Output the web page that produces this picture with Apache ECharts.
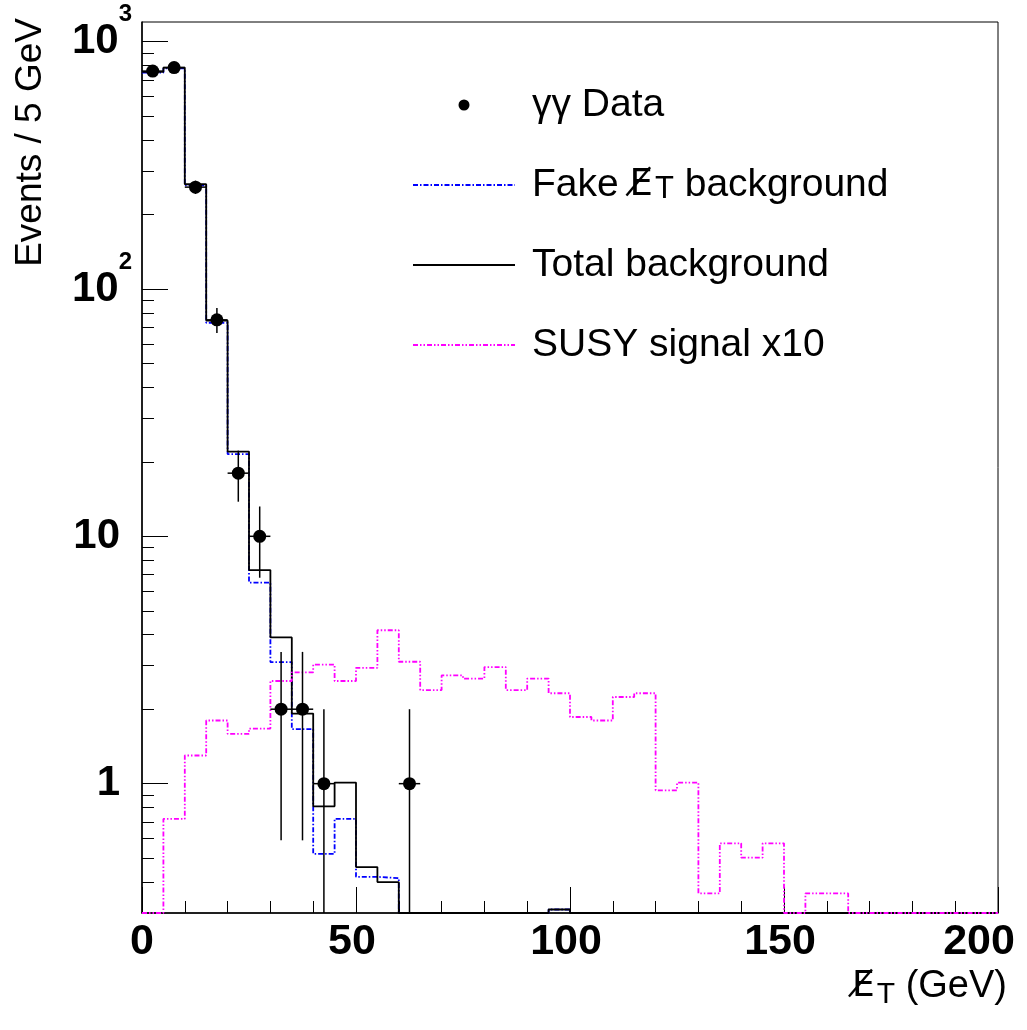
<!DOCTYPE html>
<html>
<head>
<meta charset="utf-8">
<script src="https://cdn.jsdelivr.net/npm/echarts@6/dist/echarts.min.js"></script>
<style>
html,body{margin:0;padding:0;background:#fff;overflow:hidden;}
#chart{width:1027px;height:1030px;}
</style>
</head>
<body>
<div id="chart"></div>
<script>
// ---- data ----
const binLow = [0,5,10,15,20,25,30,35,40,45,50,55,60,65,70,75,80,85,90,95,
                100,105,110,115,120,125,130,135,140,145,150,155,160,165,170,175,180,185,190,195];
const binWidth = 5;
const fakeBkg  = [750,780,262,73,21.5,6.5,3.1,1.66,0.52,0.72,0.42,0.415,0,0,0,0,0,0,0,0.31,
                  0,0,0,0,0,0,0,0,0,0,0,0,0,0,0,0,0,0,0,0];
const totalBkg = [755,785,265,74.5,22,7.3,3.9,1.92,0.81,1.01,0.46,0.40,0,0,0,0,0,0,0,0.31,
                  0,0,0,0,0,0,0,0,0,0,0,0,0,0,0,0,0,0,0,0];
const susy10   = [0,0.72,1.30,1.80,1.59,1.67,2.60,2.82,3.03,2.60,2.94,4.17,3.11,2.39,2.74,2.66,2.96,2.39,2.66,2.32,
                  1.86,1.80,2.24,2.32,0.94,1.01,0.36,0.574,0.502,0.574,0,0.36,0.36,0,0,0,0,0,0,0];
const dataX    = [2.5,7.5,12.5,17.5,22.5,27.5,32.5,37.5,42.5,62.5];
const dataY    = [760,785,258,75,18,10,2,2,1,1];
const dataErrUp= [27.6,28,16,8.7,4.2,3.2,1.41,1.41,1,1];
const dataErrDn= [27.6,28,16,8.7,4.2,3.2,1.41,1.41,1,1];
const xTicks   = [0,50,100,150,200];
const yMinorTicks = [0.4,0.5,0.6,0.7,0.8,0.9,2,3,4,5,6,7,8,9,20,30,40,50,60,70,80,90,200,300,400,500,600,700,800,900];
const legendNames = {
  data: 'γγ Data',
  fake: 'Fake {e|E\u0338}{sub|T} background',
  total: 'Total background',
  susy: 'SUSY signal x10'
};

const Y_MIN = 0.3, Y_MAX = 1200, X_MIN = 0, X_MAX = 200;
const FONT = 'Liberation Sans, Arial, Helvetica, sans-serif';

function histPoints(vals){
  const pts = binLow.map((x,i)=>[x, vals[i] > 0 ? vals[i] : Y_MIN]);
  const last = vals[vals.length-1];
  pts.push([binLow[binLow.length-1] + binWidth, last > 0 ? last : Y_MIN]);
  return pts;
}
const errData = dataX.map((x,i)=>[x, dataY[i], dataY[i]-dataErrDn[i], dataY[i]+dataErrUp[i]]);
const dotData = dataX.map((x,i)=>[x, dataY[i]]);

function xLabel(v){
  if (xTicks.indexOf(v) < 0) return '';
  if (v === X_MIN) return String(v);
  if (v === X_MAX) return '{last|' + v + '}';
  return '{mid|' + v + '}';
}
function yLabel(v){
  const e = Math.log10(v);
  const r = Math.round(e);
  if (Math.abs(e - r) > 1e-6) return '';
  const val = Math.round(v);
  if (val === 1) return '1{sp|}';
  if (val === 10) return '10{sp|}';
  if (val === 100) return '10{sup|2}';
  if (val === 1000) return '10{sup|3}';
  return '';
}

const hideSym = {opacity: 0};
const chart = echarts.init(document.getElementById('chart'), null, {renderer:'canvas'});
chart.setOption({
  backgroundColor: '#fff',
  animation: false,
  grid: {left: 142, right: 29, top: 22, bottom: 117, outerBoundsMode: 'none', containLabel: false,
         show: true, borderColor: '#000', borderWidth: 1, backgroundColor: 'transparent'},
  xAxis: {
    type: 'value', min: X_MIN, max: X_MAX, interval: 50,
    axisLine: {lineStyle: {color: '#000', width: 1.5}},
    axisTick: {inside: true, length: 26, lineStyle: {color: '#000', width: 1}},
    minorTick: {show: true, splitNumber: 5, length: 12, lineStyle: {color: '#000', width: 1}},
    splitLine: {show: false},
    axisLabel: {margin: 8, color: '#000', fontFamily: FONT, fontWeight: 'bold', fontSize: 43,
      formatter: xLabel,
      rich: {
        mid: {fontFamily: FONT, fontWeight: 'bold', fontSize: 43, color: '#000', padding: [0,8,0,0]},
        last: {fontFamily: FONT, fontWeight: 'bold', fontSize: 43, color: '#000', padding: [0,38,0,0]}
      }}
  },
  yAxis: [{
    type: 'log', logBase: 10, min: Y_MIN, max: Y_MAX,
    axisLine: {lineStyle: {color: '#000', width: 1.5}},
    axisTick: {inside: true, length: 26, lineStyle: {color: '#000', width: 1}},
    splitLine: {show: false},
    axisLabel: {margin: 10, color: '#000', fontFamily: FONT, fontWeight: 'bold', fontSize: 42,
      showMinLabel: false, showMaxLabel: false,
      formatter: yLabel,
      rich: {
        sp: {width: 12, fontSize: 42},
        sup: {fontSize: 24, fontWeight: 'bold', fontFamily: FONT, color: '#000', verticalAlign: 'top', padding: [0,0,54,0]}
      }}
  },{
    type: 'log', logBase: 10, min: Y_MIN, max: Y_MAX, position: 'left',
    axisLine: {show: false},
    axisTick: {inside: true, length: 12, customValues: yMinorTicks, lineStyle: {color: '#000', width: 1}},
    axisLabel: {show: false},
    splitLine: {show: false}
  }],
  legend: {
    orient: 'vertical', left: 407, top: 80, itemWidth: 102, itemHeight: 11, itemGap: 40,
    selectedMode: false,
    data: [
      {name: 'data'},
      {name: 'fake', itemStyle: hideSym},
      {name: 'total', itemStyle: hideSym},
      {name: 'susy', itemStyle: hideSym}
    ],
    formatter: n => '{g|}' + legendNames[n],
    textStyle: {fontFamily: FONT, fontSize: 39, color: '#000', lineHeight: 40,
      rich: {
        g: {width: 12},
        e: {fontSize: 37, fontFamily: 'DejaVu Sans', color: '#000'},
        sub: {fontSize: 31, fontFamily: FONT, color: '#000', verticalAlign: 'bottom', padding: [18,0,0,2]}
      }}
  },
  graphic: [
    {type: 'text', x: 31, y: 18, rotation: Math.PI/2,
     style: {text: 'Events / 5 GeV', font: '37px ' + FONT, fill: '#000', align: 'right', verticalAlign: 'middle'}},
    {type: 'text', right: 20, top: 968,
     style: {text: '{e|E\u0338}{s|T}{n| (GeV)}', fill: '#000',
       rich: {n: {fontSize: 38, fontFamily: FONT, color: '#000'},
              e: {fontSize: 36, fontFamily: 'DejaVu Sans', color: '#000'},
              s: {fontSize: 30, fontFamily: FONT, color: '#000', verticalAlign: 'bottom', padding: [16,0,0,2]}}}}
  ],
  series: [
    {name: 'fake', type: 'line', step: 'end', data: histPoints(fakeBkg), showSymbol: false, symbol: 'none', clip: true,
     lineStyle: {color: '#0000ff', width: 1.8, type: [5,2,1.5,2]}, itemStyle: {color: '#0000ff'}, z: 2},
    {name: 'total', type: 'line', step: 'end', data: histPoints(totalBkg), showSymbol: false, symbol: 'none', clip: true,
     lineStyle: {color: '#000', width: 1.8, type: 'solid'}, itemStyle: {color: '#000'}, z: 3},
    {name: 'susy', type: 'line', step: 'end', data: histPoints(susy10), showSymbol: false, symbol: 'none', clip: true,
     lineStyle: {color: '#ff00ff', width: 1.8, type: [5,2,1.5,2,1.5,2]}, itemStyle: {color: '#ff00ff'}, z: 4},
    {name: 'errors', type: 'custom', data: errData, encode: {x: 0, y: 1}, clip: true, z: 5,
     renderItem: (params, api) => {
       const x = api.value(0), y = api.value(1);
       const lo = Math.max(api.value(2), Y_MIN), hi = api.value(3);
       const c = api.coord([x, y]), cl = api.coord([x, lo]), ch = api.coord([x, hi]);
       const l = api.coord([x - binWidth/2, y]), r = api.coord([x + binWidth/2, y]);
       return {type: 'group', children: [
         {type: 'line', shape: {x1: c[0], y1: ch[1], x2: c[0], y2: cl[1]}, style: {stroke: '#000', lineWidth: 1.5}},
         {type: 'line', shape: {x1: l[0], y1: c[1], x2: r[0], y2: c[1]}, style: {stroke: '#000', lineWidth: 1.5}}
       ]};
     }},
    {name: 'data', type: 'scatter', data: dotData, symbol: 'circle', symbolSize: 13,
     itemStyle: {color: '#000', opacity: 1}, z: 6}
  ]
});
</script>
</body>
</html>
